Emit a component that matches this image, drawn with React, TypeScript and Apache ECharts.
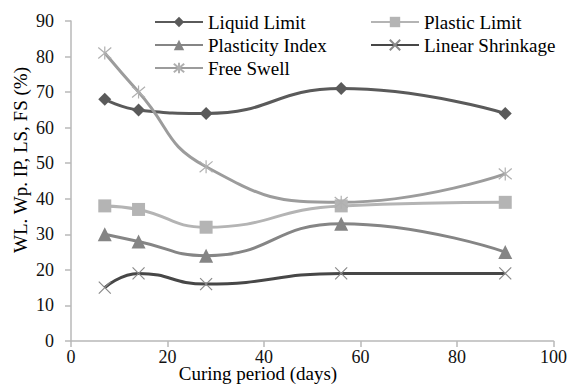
import React, { useEffect, useRef } from "react";
import * as echarts from "echarts";

const days = [7, 14, 28, 56, 90];
const liquidLimit = [68, 65, 64, 71, 64];
const plasticLimit = [38, 37, 32, 38, 39];
const plasticityIndex = [30, 28, 24, 33, 25];
const linearShrinkage = [15, 19, 16, 19, 19];
const freeSwell = [81, 70, 49, 39, 47];

const FONT = "Times New Roman";
const X_SYMBOL = "path://M0,0 L10,10 M10,0 L0,10";
const STAR_SYMBOL = "path://M0,0 L10,10 M10,0 L0,10 M5,-1 L5,11";

const pairs = (ys: number[]) => days.map((d, i) => [d, ys[i]]);

export default function App() {
  const ref = useRef<HTMLDivElement>(null);
  useEffect(() => {
    if (!ref.current) return;
    const chart = echarts.init(ref.current, undefined, { renderer: "svg" });
    const line = (
      name: string,
      data: number[],
      color: string,
      symbol: string,
      symbolSize: number,
      markerColor: string,
      stroke = false
    ) => ({
      name,
      type: "line",
      smooth: 0.5,
      data: pairs(data),
      symbol,
      symbolSize,
      showSymbol: true,
      lineStyle: { color, width: 3 },
      itemStyle: stroke
        ? { color: "rgba(0,0,0,0)", borderColor: markerColor, borderWidth: 1.2 }
        : { color: markerColor, borderWidth: 0 },
      emphasis: { disabled: true },
      z: 2,
    });
    const legendText = { fontFamily: FONT, fontSize: 19, color: "#000", lineHeight: 22 };
    chart.setOption({
      animation: false,
      backgroundColor: "#ffffff",
      textStyle: { fontFamily: FONT },
      grid: { left: 71, right: 14, top: 21, bottom: 49, containLabel: false },
      legend: [
        {
          orient: "vertical",
          left: 149,
          top: 6,
          itemWidth: 48,
          itemHeight: 13,
          itemGap: 1,
          textStyle: legendText,
          data: ["Liquid Limit", "Plasticity Index", "Free Swell"],
        },
        {
          orient: "vertical",
          left: 365,
          top: 6,
          itemWidth: 48,
          itemHeight: 13,
          itemGap: 1,
          textStyle: legendText,
          data: ["Plastic Limit", "Linear Shrinkage"],
        },
      ],
      xAxis: {
        type: "value",
        min: 0,
        max: 100,
        interval: 20,
        axisLine: { show: true, lineStyle: { color: "#b8b8b8", width: 1.5 } },
        axisTick: { show: true, inside: false, length: 6, lineStyle: { color: "#b8b8b8", width: 1.5 } },
        axisLabel: { fontFamily: FONT, fontSize: 18, lineHeight: 15, color: "#111", margin: 8 },
        splitLine: { show: false },
      },
      yAxis: {
        type: "value",
        min: 0,
        max: 90,
        interval: 10,
        axisLine: { show: true, lineStyle: { color: "#b8b8b8", width: 1.5 } },
        axisTick: { show: true, inside: false, length: 6, lineStyle: { color: "#b8b8b8", width: 1.5 } },
        axisLabel: { fontFamily: FONT, fontSize: 18, color: "#111", margin: 17 },
        splitLine: { show: false },
      },
      graphic: [
        {
          type: "text",
          x: 258,
          y: 373,
          style: {
            text: "Curing period (days)",
            fontFamily: FONT,
            fontSize: 19,
            lineHeight: 17,
            fill: "#000",
            align: "center",
            verticalAlign: "middle",
          },
        },
        {
          type: "text",
          x: 20,
          y: 160,
          rotation: Math.PI / 2,
          style: {
            text: "WL. Wp. IP, LS, FS (%)",
            fontFamily: FONT,
            fontSize: 19,
            fill: "#000",
            align: "center",
            verticalAlign: "middle",
          },
        },
      ],
      series: [
        line("Liquid Limit", liquidLimit, "#5a5a5a", "diamond", 13, "#5a5a5a"),
        line("Plastic Limit", plasticLimit, "#b4b4b4", "rect", 13, "#b4b4b4"),
        line("Plasticity Index", plasticityIndex, "#858585", "triangle", 14, "#858585"),
        line("Linear Shrinkage", linearShrinkage, "#474747", X_SYMBOL, 12, "#8a8a8a", true),
        line("Free Swell", freeSwell, "#9c9c9c", STAR_SYMBOL, 13, "#b0b0b0", true),
      ],
    });
    return () => chart.dispose();
  }, []);
  return (
    <div
      ref={ref}
      style={{ position: "fixed", left: 0, top: 0, width: 570, height: 390, background: "#fff" }}
    />
  );
}
